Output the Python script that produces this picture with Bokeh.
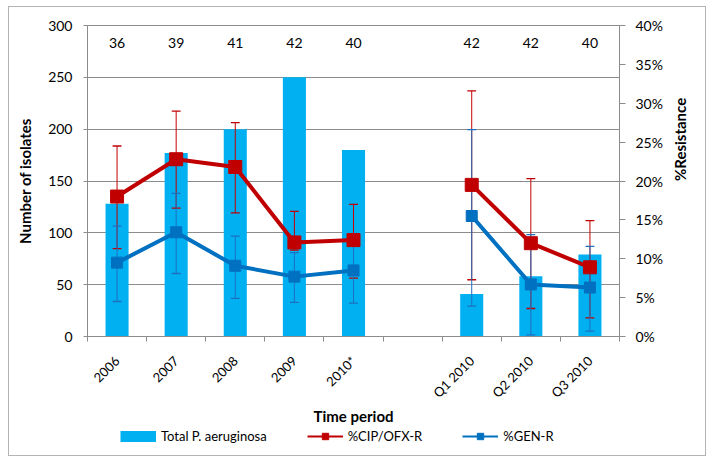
import math
from bokeh.plotting import figure
from bokeh.layouts import column
from bokeh.core.properties import value
from bokeh.models import (Range1d, LinearAxis, FixedTicker, CustomJSTickFormatter,
                          PrintfTickFormatter, Legend, LegendItem, ColumnDataSource)
from bokeh.embed import file_html
from bokeh.resources import INLINE

# ---- data ----
periods = ["2006", "2007", "2008", "2009", "2010*", "", "Q1 2010", "Q2 2010", "Q3 2010"]
total_isolates = [128, 177, 200, 250, 180, None, 41, 58, 79]
n_tested = [36, 39, 41, 42, 40, None, 42, 42, 40]
cip_pct = [18.0, 22.8, 21.8, 12.1, 12.4, None, 19.5, 12.0, 8.9]
cip_hi = [24.5, 29.0, 27.5, 16.1, 17.0, None, 31.6, 20.3, 14.9]
cip_lo = [11.3, 16.5, 15.9, 11.1, 7.5, None, 7.3, 3.6, 2.4]
gen_pct = [9.5, 13.4, 9.1, 7.7, 8.5, None, 15.5, 6.7, 6.3]
gen_hi = [14.2, 18.4, 12.9, 10.8, 12.4, None, 26.6, 13.1, 11.6]
gen_lo = [4.5, 8.1, 4.9, 4.4, 4.3, None, 3.9, 0.2, 0.7]
left_ticks = [0, 50, 100, 150, 200, 250, 300]
right_ticks = [0, 5, 10, 15, 20, 25, 30, 35, 40]

# ---- style ----
FONT = "Lato"
BAR = "#00B0F0"
RED = "#C00000"
BLUE = "#0070C0"
BLUE_ERR = "#1F6FC0"
GRID = "#8c8c8c"
BAR_W = 0.39
CAP = 0.075
LABEL_Y = 283

nan = float("nan")
xs = [i + 0.5 for i in range(len(periods))]
def f(v):
    return nan if v is None else v

p = figure(width=696, height=421, output_backend="svg", toolbar_location=None,
           x_range=Range1d(0, len(periods)), y_range=Range1d(0, 300),
           min_border_left=78, min_border_right=86, min_border_top=18,
           min_border_bottom=92, outline_line_color=GRID)
p.extra_y_ranges = {"pct": Range1d(0, 40)}

# bars
bsrc = ColumnDataSource(dict(x=[x for x, v in zip(xs, total_isolates) if v is not None],
                             top=[v for v in total_isolates if v is not None]))
p.vbar(x="x", top="top", width=BAR_W, source=bsrc, fill_color=BAR, line_color=None)

# error bars
def errbars(mid, hi, lo, color):
    px = [x for x, m in zip(xs, mid) if m is not None]
    h = [v for v in hi if v is not None]
    l = [v for v in lo if v is not None]
    p.segment(x0=px, y0=l, x1=px, y1=h, line_color=color, line_width=1, y_range_name="pct")
    p.segment(x0=[x - CAP for x in px], y0=h, x1=[x + CAP for x in px], y1=h,
              line_color=color, line_width=1.3, y_range_name="pct")
    p.segment(x0=[x - CAP for x in px], y0=l, x1=[x + CAP for x in px], y1=l,
              line_color=color, line_width=1.3, y_range_name="pct")

errbars(cip_pct, cip_hi, cip_lo, RED)
errbars(gen_pct, gen_hi, gen_lo, BLUE_ERR)

# lines
p.line(xs, [f(v) for v in cip_pct], line_color=RED, line_width=4, y_range_name="pct")
p.scatter(xs, [f(v) for v in cip_pct], marker="square", size=13, fill_color=RED,
          line_color=RED, y_range_name="pct")
p.line(xs, [f(v) for v in gen_pct], line_color=BLUE, line_width=4, y_range_name="pct")
p.scatter(xs, [f(v) for v in gen_pct], marker="square", size=11, fill_color=BLUE,
          line_color=BLUE, y_range_name="pct")

# n labels
tx = [x for x, n in zip(xs, n_tested) if n is not None]
tt = [str(n) for n in n_tested if n is not None]
p.text(x=tx, y=[LABEL_Y] * len(tx), text=tt, text_align="center", text_baseline="middle",
       text_font_size="14px", text_color="#000000", text_font=value(FONT))

# axes
p.xgrid.visible = False
p.ygrid.grid_line_color = GRID
p.ygrid.grid_line_width = 1

xa = p.xaxis[0]
xa.ticker = FixedTicker(ticks=[x for x, l in zip(xs, periods) if l],
                        minor_ticks=list(range(len(periods) + 1)))
xa.formatter = CustomJSTickFormatter(args=dict(labels=periods),
                                     code="return labels[Math.floor(tick)];")
xa.major_label_orientation = math.pi / 4
xa.major_tick_out = 5
xa.minor_tick_line_color = GRID
xa.minor_tick_out = 5
xa.minor_tick_in = 0
xa.major_label_standoff = 17
xa.axis_label = "Time period"
xa.axis_label_standoff = -2

ya = p.yaxis[0]
ya.ticker = FixedTicker(ticks=left_ticks)
ya.major_tick_out = 4
ya.major_tick_in = 0
ya.minor_tick_line_color = None
ya.major_label_standoff = 11
ya.axis_label = "Number of isolates"
ya.axis_label_standoff = 11

ra = LinearAxis(y_range_name="pct", ticker=FixedTicker(ticks=right_ticks),
                formatter=PrintfTickFormatter(format="%d%%"),
                axis_label="%Resistance", axis_label_orientation=math.pi / 2)
ra.major_tick_out = 6
ra.major_tick_in = 0
ra.minor_tick_line_color = None
ra.major_label_standoff = 10
ra.axis_label_standoff = 14
p.add_layout(ra, "right")

for ax in (xa, ya, ra):
    ax.axis_line_color = GRID
    ax.major_tick_line_color = GRID
    ax.major_label_text_font = FONT
    ax.major_label_text_font_size = "14px"
    ax.major_label_text_color = "#000000"
    ax.axis_label_text_font = FONT
    ax.axis_label_text_font_size = "15px"
    ax.axis_label_text_font_style = "bold"
    ax.axis_label_text_color = "#000000"
xa.major_tick_line_color = None
xa.major_label_text_font_size = "13px"

# legend in its own strip below the chart (frame aligned with the chart's frame)
lg = figure(width=696, height=27, output_backend="svg", toolbar_location=None,
            x_range=Range1d(0, 1), y_range=Range1d(0, 1), x_axis_location=None,
            y_axis_location=None, min_border=0, outline_line_color=None)
lg.grid.visible = False
HIDE = dict(x=[-1], y=[-1])   # legend proxies, outside the strip's ranges
bar_proxy = lg.line(line_color=BAR, line_width=11, **HIDE)
red_l = lg.line(line_color=RED, line_width=2, **HIDE)
red_m = lg.scatter(marker="square", size=8, fill_color=RED, line_color=RED, **HIDE)
blue_l = lg.line(line_color=BLUE, line_width=2, **HIDE)
blue_m = lg.scatter(marker="square", size=8, fill_color=BLUE, line_color=BLUE, **HIDE)

legend = Legend(items=[LegendItem(label="Total P. aeruginosa", renderers=[bar_proxy]),
                       LegendItem(label="%CIP/OFX-R", renderers=[red_l, red_m]),
                       LegendItem(label="%GEN-R", renderers=[blue_l, blue_m])],
                orientation="horizontal", location=(33, 11), border_line_color=None,
                background_fill_alpha=0, label_text_font=FONT, label_text_font_size="13px",
                label_text_color="#000000", label_height=16,
                glyph_width=36, glyph_height=16, spacing=40, padding=0, margin=0,
                label_standoff=5)
lg.add_layout(legend)

layout = column(p, lg, spacing=0)
layout.styles = {"margin-left": "8px", "margin-top": "6px", "border": "1px solid #b4b4b4"}

open("out.html", "w").write(file_html(layout, INLINE))
